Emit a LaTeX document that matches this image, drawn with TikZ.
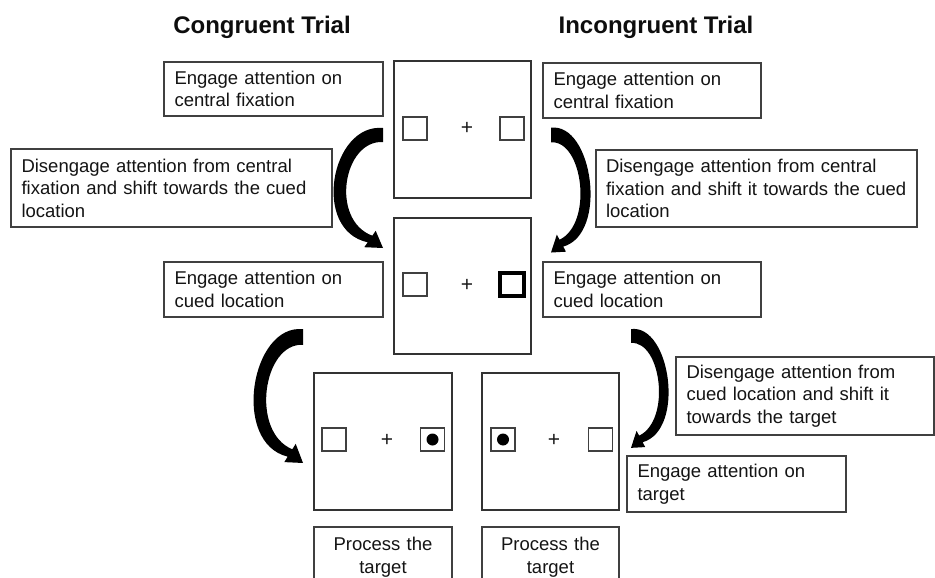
\documentclass[tikz,border=0pt]{standalone}
\usepackage{fontspec}
\setmainfont{Liberation Sans}
\begin{document}
\begin{tikzpicture}[x=1pt,y=-1pt,
  screen/.style={draw=black!80, line width=1.3pt, inner sep=0pt, minimum width=137pt, minimum height=137pt},
  cue/.style={draw=black!75, line width=1.1pt, inner sep=0pt, minimum width=24pt, minimum height=23pt},
  cuebold/.style={draw=black, line width=3.6pt, inner sep=0pt, minimum width=24pt, minimum height=23pt},
  fix/.style={inner sep=0pt, font=\fontsize{21}{21}\selectfont, text=black!90},
  dot/.style={fill=black, circle, inner sep=0pt, minimum size=12pt},
  tb/.style={draw=black!75, line width=1.1pt, align=left, inner xsep=10.5pt, inner ysep=0pt,
    font=\fontsize{18.5}{22.5}\selectfont, text=black!92},
  pb/.style={tb, align=center},
  heading/.style={font=\bfseries\fontsize{24}{27}\selectfont, text=black!95},
  bent arrow/.pic={
    \fill[black] (0,-7) .. controls (-52,-12) and (-72,95) .. (-15.3,107.3)
      -- (-18.7,112.2) -- (0,113) -- (-7.3,95.8) -- (-10.7,100.7)
      .. controls (-53,85) and (-40,5) .. (0,7) -- cycle;
  }]
\useasboundingbox (0,0) rectangle (935,578);
\clip (0,0) rectangle (935,578);
\fill[white] (0,0) rectangle (935,578);

% column headings
\node[heading] (hc) at (262,27) {Congruent Trial};
\node[heading] (hi) at (656,27) {Incongruent Trial};

% display screens
\node[screen] (s1) at (462.5,129.5) {};
\node[screen, minimum height=136pt] (s2) at (462.5,286) {};
\node[screen, minimum width=138pt] (s3) at (383,441.5) {};
\node[screen] (s4) at (550.5,441.5) {};

% fixation display
\node[cue] (s1l) at (415,128.5) {};
\node[fix] (s1f) at (467,128.5) {+};
\node[cue] (s1r) at (512,128.5) {};

% cue display
\node[cue] (s2l) at (415,284.5) {};
\node[fix] (s2f) at (467,285) {+};
\node[cuebold] (s2r) at (512,284.5) {};

% target displays
\node[cue] (s3l) at (334,439.5) {};
\node[fix] (s3f) at (387,440) {+};
\node[cue] (s3r) at (432.5,439.5) {};
\node[dot] (s3d) at (s3r.center) {};

\node[cue] (s4l) at (503,439.5) {};
\node[dot] (s4d) at (s4l.center) {};
\node[fix] (s4f) at (554,440) {+};
\node[cue] (s4r) at (600.5,439.5) {};

% text boxes, congruent side
\node[tb, text width=198pt, minimum height=54pt] (e1) at (273.5,89)
  {Engage attention on\\central fixation};
\node[tb, text width=300pt, minimum height=78pt] (d1) at (171.5,188)
  {Disengage attention from central\\fixation and shift towards the cued\\location};
\node[tb, text width=198pt, minimum height=55pt] (c1) at (273.5,289.5)
  {Engage attention on\\cued location};

% text boxes, incongruent side
\node[tb, text width=197pt, minimum height=55pt] (e2) at (652,90.5)
  {Engage attention on\\central fixation};
\node[tb, text width=301pt, inner xsep=10pt, minimum height=77pt] (d2) at (756.5,188.5)
  {Disengage attention from central\\fixation and shift it towards the cued\\location};
\node[tb, text width=197pt, minimum height=55pt] (c2) at (652,289.5)
  {Engage attention on\\cued location};
\node[tb, text width=237pt, minimum height=78pt] (d3) at (805,396)
  {Disengage attention from\\cued location and shift it\\towards the target};
\node[tb, text width=198pt, minimum height=56pt] (t1) at (736.5,484)
  {Engage attention on\\target};

% processing boxes
\node[pb, text width=117pt, minimum height=60pt] (p1) at (383,557) {Process the\\target};
\node[pb, text width=116pt, minimum height=60pt] (p2) at (550.5,557) {Process the\\target};

% attention shifts
\coordinate (a1) at (383,135);
\coordinate (a2) at (551,135);
\coordinate (a3) at (303,337);
\coordinate (a4) at (631,336);
\pic at (a1) {bent arrow};
\pic[xscale=-0.8, yscale=1.04] at (a2) {bent arrow};
\pic[yscale=1.115] at (a3) {bent arrow};
\pic[xscale=-0.76, yscale=0.99] at (a4) {bent arrow};
\end{tikzpicture}
\end{document}
